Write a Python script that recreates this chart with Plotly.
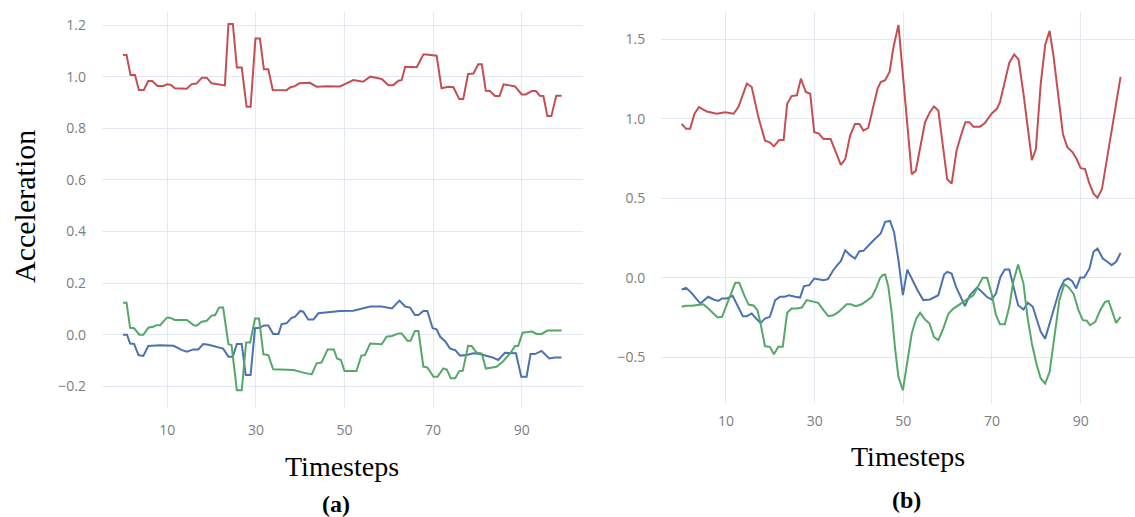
import plotly.graph_objects as go

# ---------------- data: (timestep, acceleration) ----------------
left_red = [(0,1.084),(0.8,1.084),(1.7,1.006),(2.7,1.006),(3.6,0.948),(4.7,0.948),(5.7,0.983),(6.6,0.983),
            (7.8,0.964),(9.1,0.964),(10,0.970),(10.8,0.968),(11.7,0.955),(14.4,0.953),(15.5,0.971),(16.6,0.973),
            (17.8,0.996),(18.9,0.996),(20,0.974),(21,0.971),(22.3,0.966),(23,0.966),(23.8,1.204),(24.8,1.204),
            (25.7,1.035),(26.8,1.035),(27.9,0.883),(28.8,0.883),(29.9,1.148),(30.9,1.148),(31.8,1.029),(32.8,1.029),
            (33.8,0.948),(36.9,0.947),(37.7,0.958),(38.8,0.963),(39.8,0.974),(42.2,0.976),(43.7,0.961),(46,0.963),
            (49,0.962),(50,0.970),(52,0.987),(54.2,0.980),(55.8,1.0),(58.4,0.991),(59.9,0.967),(61,0.967),
            (62.2,0.984),(62.9,0.986),(63.7,1.038),(66.3,1.036),(67.8,1.086),(68.5,1.086),(70.8,1.081),(71.9,0.955),
            (73.4,0.961),(74.6,0.959),(75.9,0.913),(76.8,0.913),(77.9,1.010),(79.1,1.012),(80.2,1.048),(81,1.048),
            (81.9,0.945),(82.8,0.944),(84,0.925),(85,0.925),(85.9,0.970),(87,0.967),(88.5,0.962),(90,0.931),
            (90.9,0.931),(92.3,0.944),(93.2,0.944),(94.1,0.926),(94.9,0.925),(95.8,0.847),(96.7,0.847),(97.8,0.926),
            (99,0.926)]

left_green = [(0,0.124),(0.8,0.124),(1.6,0.027),(2.5,0.025),(3.7,0.0),(4.6,0.0),(5.7,0.027),(6.8,0.031),
              (7.6,0.037),(8.4,0.037),(9.9,0.066),(10.6,0.066),(11.7,0.057),(14.4,0.057),(15.9,0.037),(16.6,0.035),
              (17.8,0.050),(18.9,0.054),(20,0.074),(20.8,0.076),(21.7,0.105),(22.6,0.105),(23.8,-0.037),(24.5,-0.040),
              (25.7,-0.215),(26.8,-0.215),(27.8,-0.030),(28.7,-0.030),(29.8,0.063),(30.7,0.063),(31.7,-0.076),
              (32.8,-0.079),(33.9,-0.134),(38.5,-0.137),(40.7,-0.147),(42.6,-0.154),(43.7,-0.111),(44.8,-0.108),
              (46.2,-0.057),(47.6,-0.057),(48.3,-0.092),(49.2,-0.098),(50,-0.141),(52.7,-0.141),(53.8,-0.081),
              (54.6,-0.079),(55.8,-0.034),(57,-0.036),(58.4,-0.037),(59.5,-0.008),(60.7,-0.005),(62.2,0.005),
              (62.9,0.005),(64.2,-0.023),(64.9,-0.023),(65.9,0.014),(66.7,0.014),(67.8,-0.124),(68.7,-0.127),
              (70.1,-0.163),(71,-0.163),(72.3,-0.131),(73.1,-0.135),(74,-0.169),(75,-0.169),(75.9,-0.141),
              (76.7,-0.140),(77.9,-0.043),(78.7,-0.044),(79.8,-0.069),(81,-0.073),(81.9,-0.131),(83.2,-0.128),
              (84.3,-0.124),(85.7,-0.105),(86.5,-0.089),(87.5,-0.070),(88.5,-0.044),(89.2,-0.044),(90.2,0.008),
              (92.3,0.012),(93.4,0.003),(94.5,0.003),(95.8,0.016),(99,0.016)]

left_blue = [(0,0.0),(0.9,0.0),(1.6,-0.034),(2.5,-0.036),(3.5,-0.079),(4.6,-0.082),(5.7,-0.044),(8.4,-0.041),
             (11.4,-0.043),(13.2,-0.059),(14.4,-0.066),(15.9,-0.057),(17,-0.057),(18.1,-0.036),(19.3,-0.039),
             (21.1,-0.047),(22.6,-0.054),(23.8,-0.085),(24.8,-0.085),(25.7,-0.036),(26.8,-0.036),(27.7,-0.156),
             (28.8,-0.156),(29.8,0.025),(30.9,0.027),(31.8,0.036),(32.8,0.036),(33.9,0.003),(35.1,0.003),
             (35.8,0.041),(36.9,0.044),(38.1,0.066),(38.8,0.069),(40,0.092),(40.7,0.089),(41.8,0.059),(43,0.059),
             (44.1,0.083),(45.2,0.085),(46.4,0.089),(49,0.092),(52,0.093),(53.8,0.102),(55.8,0.109),(58.4,0.109),
             (60.7,0.102),(62.4,0.132),(63.7,0.109),(64.8,0.105),(65.9,0.076),(66.7,0.076),(67.8,0.092),
             (68.7,0.092),(69.9,0.025),(70.8,0.021),(71.6,-0.008),(72.7,-0.025),(73.8,-0.053),(75,-0.060),
             (76.1,-0.081),(77.6,-0.079),(79.1,-0.072),(80.6,-0.075),(82.1,-0.083),(83.4,-0.088),(84.7,-0.098),
             (86.2,-0.070),(88.7,-0.072),(89.9,-0.163),(91.1,-0.163),(92,-0.075),(93,-0.075),(94.5,-0.063),
             (96.2,-0.092),(97.5,-0.088),(99,-0.088)]

right_red = [(0,0.968),(1,0.937),(1.9,0.937),(2.9,1.032),(3.9,1.074),(5.7,1.046),(7.9,1.032),(9.8,1.042),
             (11.7,1.032),(12.8,1.074),(14.7,1.222),(15.8,1.20),(17.3,1.011),(18.8,0.863),(19.9,0.852),
             (20.8,0.827),(22,0.867),(23,0.867),(23.8,1.095),(24.8,1.143),(26,1.148),(26.9,1.253),(28,1.169),
             (29,1.158),(29.9,0.916),(30.9,0.909),(32,0.873),(33.6,0.873),(34.8,0.789),(35.9,0.711),(36.9,0.747),
             (38,0.895),(39.1,0.968),(40.1,0.968),(41,0.926),(42.1,0.943),(43.2,1.074),(44.2,1.19),(44.9,1.232),
             (45.9,1.243),(46.9,1.295),(47.8,1.454),(48.9,1.591),(49.9,1.264),(51.9,0.652),(52.8,0.673),
             (53.8,0.81),(54.9,0.979),(56,1.042),(56.9,1.078),(57.9,1.053),(59,0.80),(59.9,0.620),(60.9,0.593),
             (62,0.80),(63,0.895),(64,0.979),(64.9,0.979),(65.8,0.951),(67.3,0.951),(68.4,0.973),(69.9,1.032),
             (71.1,1.063),(71.8,1.105),(72.9,1.243),(73.9,1.352),(75,1.405),(76,1.373),(77.1,1.158),(78.1,0.926),
             (79,0.741),(79.9,0.81),(81,1.222),(82,1.464),(83,1.553),(83.9,1.39),(85,1.137),(86,0.905),(87,0.821),
             (88.2,0.789),(89.1,0.747),(90,0.69),(91,0.684),(91.9,0.599),(92.9,0.530),(93.8,0.504),(94.8,0.557),
             (95.9,0.736),(97,0.926),(98.1,1.116),(99,1.264)]

right_blue = [(0,-0.073),(1,-0.063),(2,-0.088),(3,-0.124),(4.2,-0.161),(5.1,-0.140),(6,-0.119),(7.2,-0.136),
              (8.3,-0.145),(9.1,-0.130),(10.2,-0.130),(11.5,-0.113),(12.4,-0.161),(13.8,-0.241),(14.7,-0.241),
              (15.8,-0.224),(16.8,-0.256),(17.8,-0.283),(18.8,-0.256),(19.9,-0.245),(21.1,-0.140),(22.2,-0.119),
              (23.3,-0.119),(24.2,-0.109),(25.6,-0.119),(26.7,-0.124),(27.6,-0.052),(28.8,-0.046),(29.9,-0.004),
              (31,-0.008),(32,-0.015),(33,-0.008),(34.2,0.048),(35.1,0.080),(35.9,0.105),(36.9,0.174),(38,0.143),
              (39.1,0.122),(40.1,0.168),(41,0.170),(42.1,0.205),(43.4,0.240),(44.9,0.279),(45.9,0.352),(47,0.358),
              (47.9,0.289),(48.9,0.111),(49.9,-0.109),(50.9,0.052),(51.9,-0.004),(53.2,-0.078),(54.5,-0.140),
              (56,-0.136),(57.9,-0.109),(59.2,0.021),(59.9,0.038),(60.9,0.027),(61.9,-0.057),(63,-0.130),
              (63.9,-0.178),(65,-0.109),(66.6,-0.061),(67.7,-0.088),(68.8,-0.119),(69.9,-0.136),(70.9,-0.099),
              (71.9,0.006),(72.9,0.052),(73.9,0.052),(74.8,-0.057),(75.9,-0.172),(77.1,-0.199),(78.1,-0.157),
              (79.2,-0.182),(80.1,-0.266),(81,-0.340),(82,-0.382),(83,-0.287),(84,-0.203),(85.2,-0.078),
              (86.3,-0.015),(87.2,-0.004),(88.1,-0.021),(89,-0.067),(89.9,0.002),(90.8,0.002),(92,0.059),
              (92.9,0.164),(93.8,0.184),(95,0.122),(96,0.101),(97,0.080),(98,0.101),(99,0.157)]

right_green = [(0,-0.182),(1,-0.176),(2.3,-0.176),(3.8,-0.172),(4.9,-0.166),(6,-0.193),(7.2,-0.224),(8.1,-0.249),
               (9.1,-0.245),(10.2,-0.172),(11.3,-0.088),(12.1,-0.031),(13,-0.031),(14.1,-0.109),(15.1,-0.168),
               (16.2,-0.174),(17.1,-0.203),(17.8,-0.287),(18.8,-0.430),(19.9,-0.434),(20.8,-0.480),(21.8,-0.434),
               (22.8,-0.434),(23.8,-0.220),(24.8,-0.193),(26,-0.193),(27.1,-0.187),(28.2,-0.140),(29.7,-0.151),
               (30.8,-0.157),(32,-0.203),(33.1,-0.241),(34.2,-0.235),(35.4,-0.214),(37.2,-0.166),(38.1,-0.166),
               (39.3,-0.178),(40.6,-0.166),(41.7,-0.145),(42.9,-0.119),(44,-0.057),(44.7,-0.004),(45.3,0.017),
               (45.9,0.021),(46.6,-0.052),(47.4,-0.224),(48.1,-0.434),(48.9,-0.623),(49.9,-0.707),(50.8,-0.539),
               (51.9,-0.350),(52.9,-0.256),(53.8,-0.220),(54.9,-0.262),(55.9,-0.287),(56.9,-0.371),(57.9,-0.392),
               (59,-0.319),(60.2,-0.224),(61.3,-0.193),(62.8,-0.166),(64.3,-0.140),(65.8,-0.109),(66.9,-0.052),
               (67.9,0.0),(68.9,0.0),(69.9,-0.099),(70.9,-0.235),(71.8,-0.291),(72.9,-0.291),(73.9,-0.182),
               (74.8,-0.025),(75.9,0.084),(77.1,-0.036),(78,-0.245),(79,-0.413),(80.1,-0.549),(81,-0.633),
               (82,-0.665),(83,-0.591),(84,-0.371),(85.2,-0.140),(86.3,-0.040),(87.2,-0.057),(88.4,-0.099),
               (89.5,-0.203),(90.5,-0.266),(91.4,-0.270),(92.1,-0.298),(93.3,-0.277),(94.4,-0.203),(95.5,-0.151),
               (96.3,-0.145),(97,-0.203),(98,-0.283),(99,-0.245)]

x_ticks = [10, 30, 50, 70, 90]
y_ticks_a = [-0.2, 0.0, 0.2, 0.4, 0.6, 0.8, 1.0, 1.2]
y_ticks_b = [-0.5, 0.0, 0.5, 1.0, 1.5]

RED, BLUE, GREEN = "#C44E52", "#4C72B0", "#55A868"
W, H = 1135, 517

fig = go.Figure()

def add(series, color, xa, ya):
    xs = [p[0] for p in series]
    ys = [p[1] for p in series]
    fig.add_trace(go.Scatter(x=xs, y=ys, mode="lines", line=dict(color=color, width=2),
                             xaxis=xa, yaxis=ya, showlegend=False, hoverinfo="skip"))

add(left_red, RED, "x", "y")
add(left_blue, BLUE, "x", "y")
add(left_green, GREEN, "x", "y")
add(right_red, RED, "x2", "y2")
add(right_blue, BLUE, "x2", "y2")
add(right_green, GREEN, "x2", "y2")

grid = "#E3E9F3"
tickfont = dict(family="Open Sans, sans-serif", size=14, color="#7d7d7d")

common_x = dict(tickvals=x_ticks, showgrid=True, gridcolor=grid, gridwidth=1, zeroline=False,
                showline=False, ticks="outside", tickcolor="rgba(0,0,0,0)", tickfont=tickfont)
common_y = dict(showgrid=True, gridcolor=grid, gridwidth=1, zeroline=False, showline=False,
                ticks="outside", tickcolor="rgba(0,0,0,0)", ticklen=12, tickfont=tickfont)

fig.update_layout(
    width=W, height=H, margin=dict(l=0, r=0, t=0, b=0),
    paper_bgcolor="white", plot_bgcolor="white",
    xaxis=dict(domain=[101.7 / W, 583 / W], range=[-4.81, 103.84], anchor="y", ticklen=9, **common_x),
    yaxis=dict(domain=[1 - 408 / H, 1 - 12 / H], range=[-0.284, 1.2504], anchor="x",
               tickvals=y_ticks_a, tickformat=".1f", **common_y),
    xaxis2=dict(domain=[661 / W, 1.0], range=[-4.66, 102.26], anchor="y2", ticklen=5, **common_x),
    yaxis2=dict(domain=[1 - 403 / H, 1 - 12 / H], range=[-0.787, 1.672], anchor="x2",
                tickvals=y_ticks_b, tickformat=".1f", **common_y),
)

serif = "Liberation Serif, Times New Roman, serif"
ann = [
    dict(text="Acceleration", x=25 / W, y=1 - 207 / H, textangle=-90, font=dict(family=serif, size=30, color="black")),
    dict(text="Timesteps", x=341.7 / W, y=1 - 466 / H, font=dict(family=serif, size=28, color="black")),
    dict(text="Timesteps", x=908 / W, y=1 - 456 / H, font=dict(family=serif, size=28, color="black")),
    dict(text="<b>(a)</b>", x=336 / W, y=1 - 504 / H, font=dict(family=serif, size=24, color="black")),
    dict(text="<b>(b)</b>", x=907 / W, y=1 - 500 / H, font=dict(family=serif, size=24, color="black")),
]
for a in ann:
    fig.add_annotation(xref="paper", yref="paper", showarrow=False, xanchor="center", yanchor="middle", **a)

fig.write_html("out.html", config={"displayModeBar": False},
               post_script="document.body.style.margin='0';document.body.style.overflow='hidden';")
